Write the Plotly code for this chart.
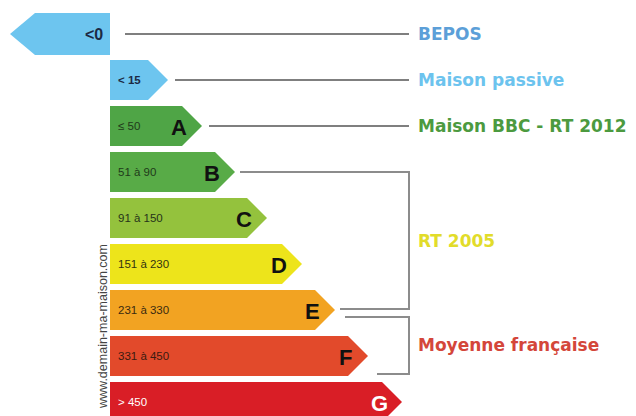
import plotly.graph_objects as go

# ---- data ----
classes = ["", "", "A", "B", "C", "D", "E", "F", "G"]
ranges = ["<0", "< 15", "≤ 50", "51 à 90", "91 à 150", "151 à 230", "231 à 330", "331 à 450", "> 450"]
arrow_length = [-100, 58, 92, 125, 157, 192, 225, 258, 292]
arrow_colors = ["#6dc5ef", "#6dc5ef", "#4fa546", "#58ab47", "#94c23d", "#ede41b",
                "#f2a322", "#e24a2b", "#d91e26"]
range_text_colors = ["#1c2a44", "#1c2a44", "#1f3a1a", "#1f3a1a", "#26331a", "#333311",
                     "#3a2a10", "#3a1a10", "#ffffff"]
letter_colors = ["#111", "#111", "#111", "#111", "#111", "#111", "#111", "#111", "#ffffff"]

labels = ["BEPOS", "Maison passive", "Maison BBC - RT 2012", "RT 2005", "Moyenne française"]
label_rows = [0, 1, 2, 4.5, 6.75]
label_colors = ["#5c9fd8", "#6cc3ee", "#4c9a3f", "#e2dc2a", "#d4463a"]

# ---- layout constants (pixels on x axis, row index on y axis) ----
BASE = 110
PX = 1 / 46.0  # one pixel in row units
H = 20 * PX
OFF = 8  # page body margin

fig = go.Figure()

for i, (L, col) in enumerate(zip(arrow_length, arrow_colors)):
    tip = BASE + L
    if L < 0:
        h = 21 * PX
        xs = [BASE, tip + 25, tip, tip + 25, BASE, BASE]
        ys = [i - h, i - h, i, i + h, i + h, i - h]
    else:
        xs = [BASE, tip - 20, tip, tip - 20, BASE, BASE]
        ys = [i - H, i - H, i, i + H, i + H, i - H]
    fig.add_trace(go.Scatter(x=xs, y=ys, fill="toself", fillcolor=col, mode="lines",
                             line=dict(width=0, color=col), hoverinfo="skip", showlegend=False))

annotations = []
for i, (r, L) in enumerate(zip(ranges, arrow_length)):
    if L < 0:
        annotations.append(dict(x=BASE - 5, y=i, text="<b>" + r + "</b>", xanchor="right",
                                font=dict(family="Liberation Sans", size=16, color=range_text_colors[i])))
    else:
        bold = i == 1
        annotations.append(dict(x=BASE + 6, y=i, text=("<b>" + r + "</b>") if bold else r,
                                xanchor="left",
                                font=dict(family="Liberation Sans", size=11.5,
                                          color=range_text_colors[i])))
    if classes[i]:
        annotations.append(dict(x=BASE + L - 23, y=i + 1 * PX, text="<b>" + classes[i] + "</b>",
                                xanchor="center",
                                font=dict(family="Liberation Sans", size=22, color=letter_colors[i])))

for t, r, c in zip(labels, label_rows, label_colors):
    annotations.append(dict(x=416, y=r, text="<b>" + t + "</b>", xanchor="left",
                            font=dict(family="DejaVu Sans", size=17, color=c)))

annotations.append(dict(x=103, y=(327 - 34) * PX, text="www.demain-ma-maison.com", textangle=-90,
                        font=dict(family="Liberation Sans", size=12.5, color="#444")))

for a in annotations:
    a.update(xref="x", yref="y", showarrow=False, yanchor="middle")

shapes = []
dark = dict(color="#555555", width=1.5)
gray = dict(color="#8c8c8c", width=2)
# leader lines for top three rows
shapes.append(dict(type="line", x0=BASE + 15, x1=409, y0=0, y1=0, line=dark))
for i in (1, 2):
    shapes.append(dict(type="line", x0=BASE + arrow_length[i] + 7, x1=409, y0=i, y1=i, line=dark))
# bracket B..E (RT 2005)
shapes.append(dict(type="path",
                   path=f"M {BASE + arrow_length[3] + 5},{3} L 409,{3} L 409,{6 - 1 * PX} L {BASE + arrow_length[6] + 5},{6 - 1 * PX}",
                   line=gray))
# bracket E..F (Moyenne française)
shapes.append(dict(type="path",
                   path=f"M {BASE + arrow_length[6] + 10},{6 + 7 * PX} L 409,{6 + 7 * PX} L 409,{7 + 18 * PX} L {BASE + arrow_length[7] + 9},{7 + 18 * PX}",
                   line=gray))
for s in shapes:
    s.update(xref="x", yref="y", layer="below")

fig.update_layout(
    width=636 - OFF, height=416 - OFF,
    margin=dict(l=0, r=0, t=0, b=0),
    paper_bgcolor="white", plot_bgcolor="white",
    xaxis=dict(range=[OFF, 636], visible=False, fixedrange=True),
    yaxis=dict(range=[(416 - 34) * PX, (OFF - 34) * PX], visible=False, fixedrange=True),
    annotations=annotations, shapes=shapes, showlegend=False,
)

fig.write_html("out.html")
